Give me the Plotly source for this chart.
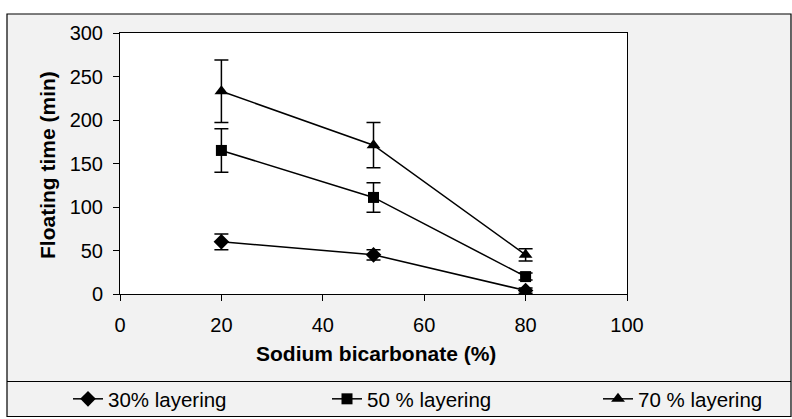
import plotly.graph_objects as go

# ---- data ----
soda = [20, 50, 80]
series_names = ["30% layering", "50 % layering", "70 % layering"]
y30 = [60, 45, 4]
e30 = [9, 6, 3]
y50 = [165, 111, 20]
e50 = [25, 17, 4]
y70 = [233, 171, 45]
e70 = [36, 26, 7]
symbols = ["diamond", "square", "triangle-up"]
msizes = [12, 11, 12]
x_ticks = [0, 20, 40, 60, 80, 100]
y_ticks = [0, 50, 100, 150, 200, 250, 300]

W, H = 792, 419
L, R, T, B = 120, 165, 33, 125
pw, ph = W - L - R, H - T - B

def px(x):
    return (x - L) / pw

def py(y):
    return (H - B - y) / ph

FONT = "Liberation Sans, Arial, sans-serif"
legend_ids = ["legend", "legend2", "legend3"]
legend_left_px = [68, 327, 598]

fig = go.Figure()
for name, ys, es, sym, ms, lid in zip(series_names, [y30, y50, y70], [e30, e50, e70], symbols, msizes, legend_ids):
    fig.add_trace(go.Scatter(
        x=soda, y=ys, name=name, mode="lines+markers",
        line=dict(color="black", width=1.5),
        marker=dict(symbol=sym, size=ms, color="black"),
        error_y=dict(type="data", array=es, visible=True, color="black", thickness=1.5, width=7),
        legend=lid,
    ))

shapes = [
    dict(type="rect", xref="paper", yref="paper", x0=px(7), x1=px(791), y0=py(416.5), y1=py(14),
         fillcolor="#f2f2f2", line=dict(color="black", width=1.2), layer="below"),
    dict(type="rect", xref="paper", yref="paper", x0=0, x1=1, y0=0, y1=1,
         fillcolor="white", line=dict(width=0), layer="below"),
    dict(type="line", xref="paper", yref="paper", x0=px(7), x1=px(791), y0=py(381.5), y1=py(381.5),
         line=dict(color="black", width=1.2), layer="below"),
]

legends = {}
for lid, lx in zip(legend_ids, legend_left_px):
    legends[lid] = dict(
        orientation="h", x=lx / W, y=1 - 399 / H, xanchor="left", yanchor="middle",
        xref="container", yref="container",
        bgcolor="rgba(0,0,0,0)", borderwidth=0,
        font=dict(family=FONT, size=20.5, color="black"),
        itemclick=False, itemdoubleclick=False,
    )

fig.update_layout(
    width=W, height=H,
    margin=dict(l=L, r=R, t=T, b=B, autoexpand=False),
    paper_bgcolor="white",
    plot_bgcolor="white",
    shapes=shapes,
    font=dict(family=FONT, size=20, color="black"),
    showlegend=True,
    **legends,
    annotations=[
        dict(text="<b>Sodium bicarbonate (%)</b>", xref="paper", yref="paper",
             x=px(376), y=py(353), xanchor="center", yanchor="middle", showarrow=False,
             font=dict(family=FONT, size=21)),
        dict(text="<b>Floating time (min)</b>", xref="paper", yref="paper",
             x=px(47), y=py(165), xanchor="center", yanchor="middle", showarrow=False,
             textangle=-90, font=dict(family=FONT, size=21)),
    ],
    xaxis=dict(
        range=[0, 100], tickvals=x_ticks, ticktext=[str(v) for v in x_ticks],
        showgrid=False, zeroline=False, automargin=False,
        showline=True, linecolor="black", linewidth=1, mirror=True,
        ticks="outside", ticklen=6, tickcolor="black", tickwidth=1,
        ticklabelstandoff=7,
        tickfont=dict(family=FONT, size=20),
    ),
    yaxis=dict(
        range=[0, 300], tickvals=y_ticks, ticktext=[str(v) for v in y_ticks],
        showgrid=False, zeroline=False, automargin=False,
        showline=True, linecolor="black", linewidth=1, mirror=True,
        ticks="outside", ticklen=6, tickcolor="black", tickwidth=1,
        ticklabelstandoff=6,
        tickfont=dict(family=FONT, size=20),
    ),
)

fig.write_html("out.html")
